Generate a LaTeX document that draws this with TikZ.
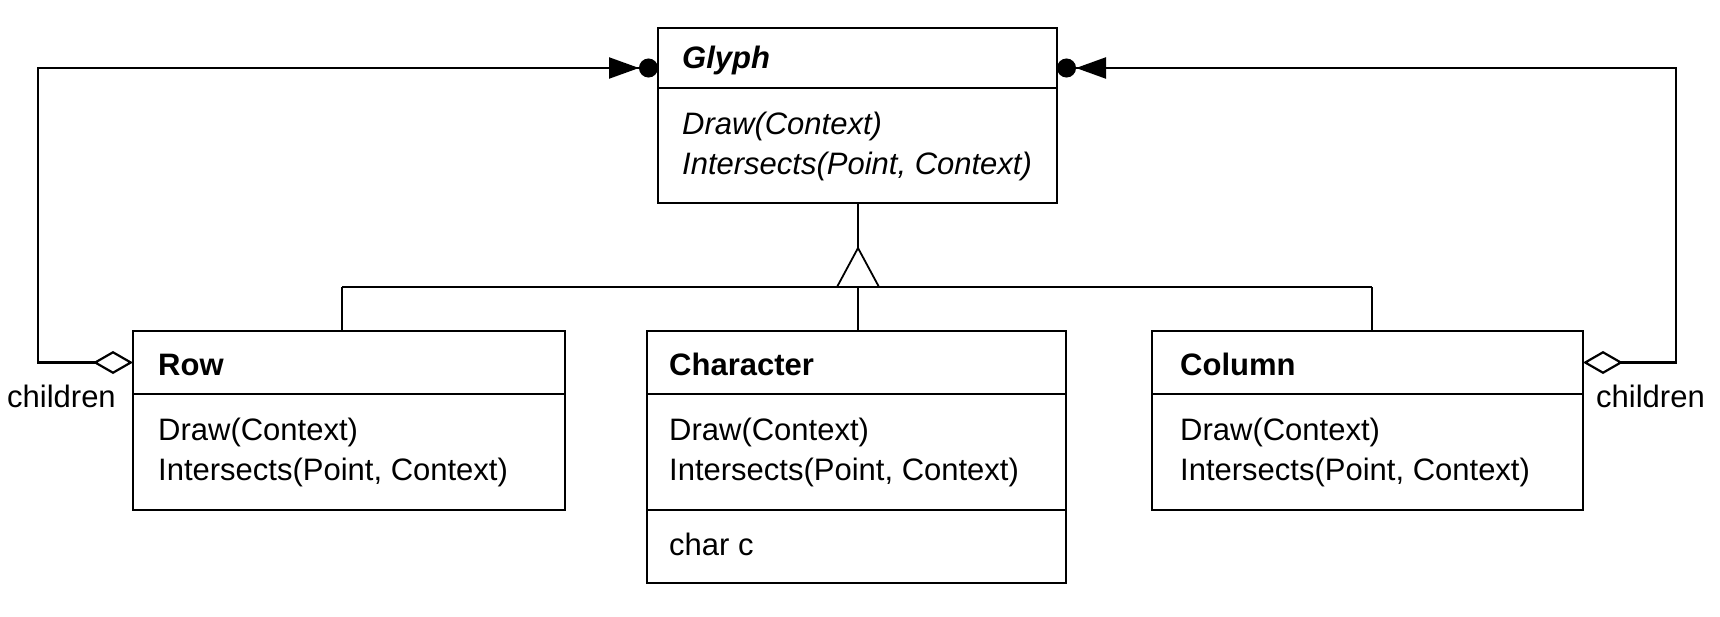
\documentclass[tikz,border=0pt]{standalone}
\usepackage{fontspec}
\setmainfont{Liberation Sans}
\usetikzlibrary{arrows.meta,calc}
\begin{document}
\begin{tikzpicture}[x=1pt,y=1pt,
  box/.style={draw, line width=2.4pt, inner sep=0pt, outer sep=0pt, anchor=north west},
  txt/.style={anchor=base west, inner sep=0pt, font=\fontsize{31}{36}\selectfont},
  conn/.style={line width=2.2pt},
  agg/.style={conn, {Diamond[open,length=40pt,width=23pt]}-{Triangle[length=30pt,width=21pt] Circle[length=19pt]}},
]
\useasboundingbox (0,0) rectangle (1720,-616);

% Glyph
\node[box, minimum width=399pt, minimum height=60pt] (glyphhead) at (658,-28) {};
\node[box, minimum width=399pt, minimum height=115pt] (glyphbody) at (658,-88) {};
\node[txt, font=\fontsize{31}{36}\selectfont\bfseries\itshape] (glyphname) at (682,-68) {Glyph};
\node[txt, font=\fontsize{31}{36}\selectfont\itshape] (glyphm1) at (682,-134) {Draw(Context)};
\node[txt, font=\fontsize{31}{36}\selectfont\itshape] (glyphm2) at (682,-174) {Intersects(Point, Context)};

% Row
\node[box, minimum width=432pt, minimum height=63pt] (rowhead) at (133,-331) {};
\node[box, minimum width=432pt, minimum height=116pt] (rowbody) at (133,-394) {};
\node[txt, font=\fontsize{31}{36}\selectfont\bfseries] (rowname) at (158,-375) {Row};
\node[txt] (rowm1) at (158,-440) {Draw(Context)};
\node[txt] (rowm2) at (158,-480) {Intersects(Point, Context)};

% Character
\node[box, minimum width=419pt, minimum height=63pt] (charhead) at (647,-331) {};
\node[box, minimum width=419pt, minimum height=116pt] (charbody) at (647,-394) {};
\node[box, minimum width=419pt, minimum height=73pt] (charattr) at (647,-510) {};
\node[txt, font=\fontsize{31}{36}\selectfont\bfseries] (charname) at (669,-375) {Character};
\node[txt] (charm1) at (669,-440) {Draw(Context)};
\node[txt] (charm2) at (669,-480) {Intersects(Point, Context)};
\node[txt] (chara1) at (669,-555) {char c};

% Column
\node[box, minimum width=431pt, minimum height=63pt] (colhead) at (1152,-331) {};
\node[box, minimum width=431pt, minimum height=116pt] (colbody) at (1152,-394) {};
\node[txt, font=\fontsize{31}{36}\selectfont\bfseries] (colname) at (1180,-375) {Column};
\node[txt] (colm1) at (1180,-440) {Draw(Context)};
\node[txt] (colm2) at (1180,-480) {Intersects(Point, Context)};

% children labels
\node[txt] (lchildren) at (7,-407) {children};
\node[txt] (rchildren) at (1596,-407) {children};

% aggregation connectors
\coordinate (glyphL) at ($(glyphhead.west)+(0,-10)$);
\coordinate (glyphR) at ($(glyphhead.east)+(0,-10)$);
\coordinate (lcorner) at (38,-68);
\coordinate (rcorner) at (1676,-68);
\draw[agg] (rowhead.west) -| (lcorner) -- (glyphL);
\draw[agg] (colhead.east) -| (rcorner) -- (glyphR);

% inheritance
\coordinate (apex) at (858,-248);
\coordinate (bl) at (837,-287);
\coordinate (br) at (879,-287);
\coordinate (rowtap) at (342,-287);
\coordinate (chartap) at (858,-287);
\coordinate (coltap) at (1372,-287);
\draw[conn] (glyphbody.south -| apex) -- (apex);
\draw[line width=1.8pt] (apex) -- (bl) -- (br) -- cycle;
\draw[conn] (rowtap) -- (coltap);
\draw[conn] (rowtap) -- (rowtap |- rowhead.north);
\draw[conn] (chartap) -- (chartap |- charhead.north);
\draw[conn] (coltap) -- (coltap |- colhead.north);
\end{tikzpicture}
\end{document}
